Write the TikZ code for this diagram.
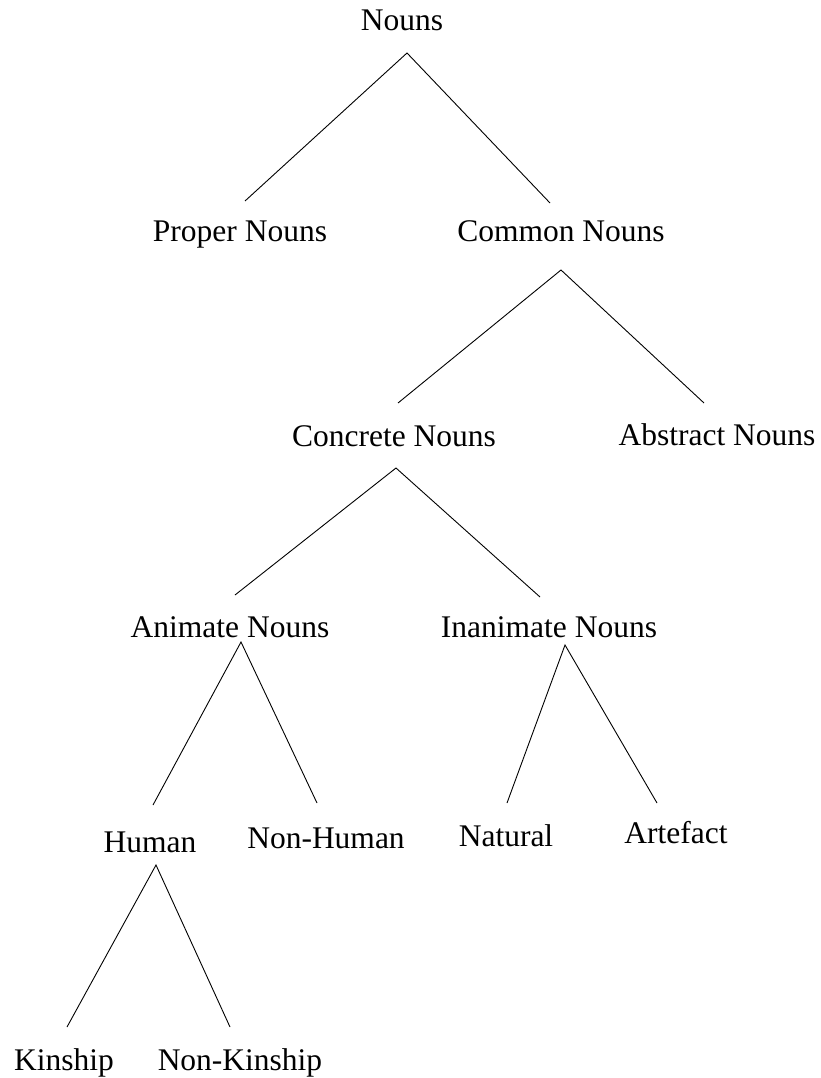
\documentclass[tikz,border=0pt]{standalone}
\usepackage{fontspec}
\setmainfont{Liberation Serif}
\usetikzlibrary{positioning}

\tikzset{
  term/.style={inner sep=0pt, anchor=base},
  branch/.style={line width=0.9pt}
}

\begin{document}
\begin{tikzpicture}[x=1pt, y=-1pt, font=\fontsize{31.5}{38}\selectfont]
  \useasboundingbox (0, 0) rectangle (821, 1078);

  % apex points under each label
  \coordinate (nouns-a) at (407, 53);
  \coordinate (common-a) at (561, 270);
  \coordinate (concrete-a) at (396, 468);
  \coordinate (animate-a) at (241, 642);
  \coordinate (inanimate-a) at (565, 645);
  \coordinate (human-a) at (156, 865);

  % line ends above each label
  \coordinate (proper-t) at (245, 201);
  \coordinate (common-t) at (550, 203);
  \coordinate (concrete-t) at (398, 403);
  \coordinate (abstract-t) at (704, 403);
  \coordinate (animate-t) at (235, 595);
  \coordinate (inanimate-t) at (540, 597);
  \coordinate (human-t) at (153, 805);
  \coordinate (nonhuman-t) at (317, 803);
  \coordinate (natural-t) at (507, 803);
  \coordinate (artefact-t) at (657, 803);
  \coordinate (kinship-t) at (67, 1027);
  \coordinate (nonkinship-t) at (230, 1027);

  \node[term] (nouns) at (402, 31) {Nouns};
  \node[term] (proper) at (240, 241) {Proper Nouns};
  \node[term] (common) at (561, 241) {Common Nouns};
  \node[term] (concrete) at (394, 446) {Concrete Nouns};
  \node[term] (abstract) at (717, 445) {Abstract Nouns};
  \node[term] (animate) at (230, 637) {Animate Nouns};
  \node[term] (inanimate) at (549, 637) {Inanimate Nouns};
  \node[term] (human) at (150, 852) {Human};
  \node[term] (nonhuman) at (326, 848) {Non-Human};
  \node[term] (natural) at (506, 846) {Natural};
  \node[term] (artefact) at (676, 843) {Artefact};
  \node[term] (kinship) at (64, 1070) {Kinship};
  \node[term] (nonkinship) at (240, 1070) {Non-Kinship};

  \draw[branch] (proper-t) -- (nouns-a) -- (common-t);
  \draw[branch] (concrete-t) -- (common-a) -- (abstract-t);
  \draw[branch] (animate-t) -- (concrete-a) -- (inanimate-t);
  \draw[branch] (human-t) -- (animate-a) -- (nonhuman-t);
  \draw[branch] (natural-t) -- (inanimate-a) -- (artefact-t);
  \draw[branch] (kinship-t) -- (human-a) -- (nonkinship-t);
\end{tikzpicture}
\end{document}
